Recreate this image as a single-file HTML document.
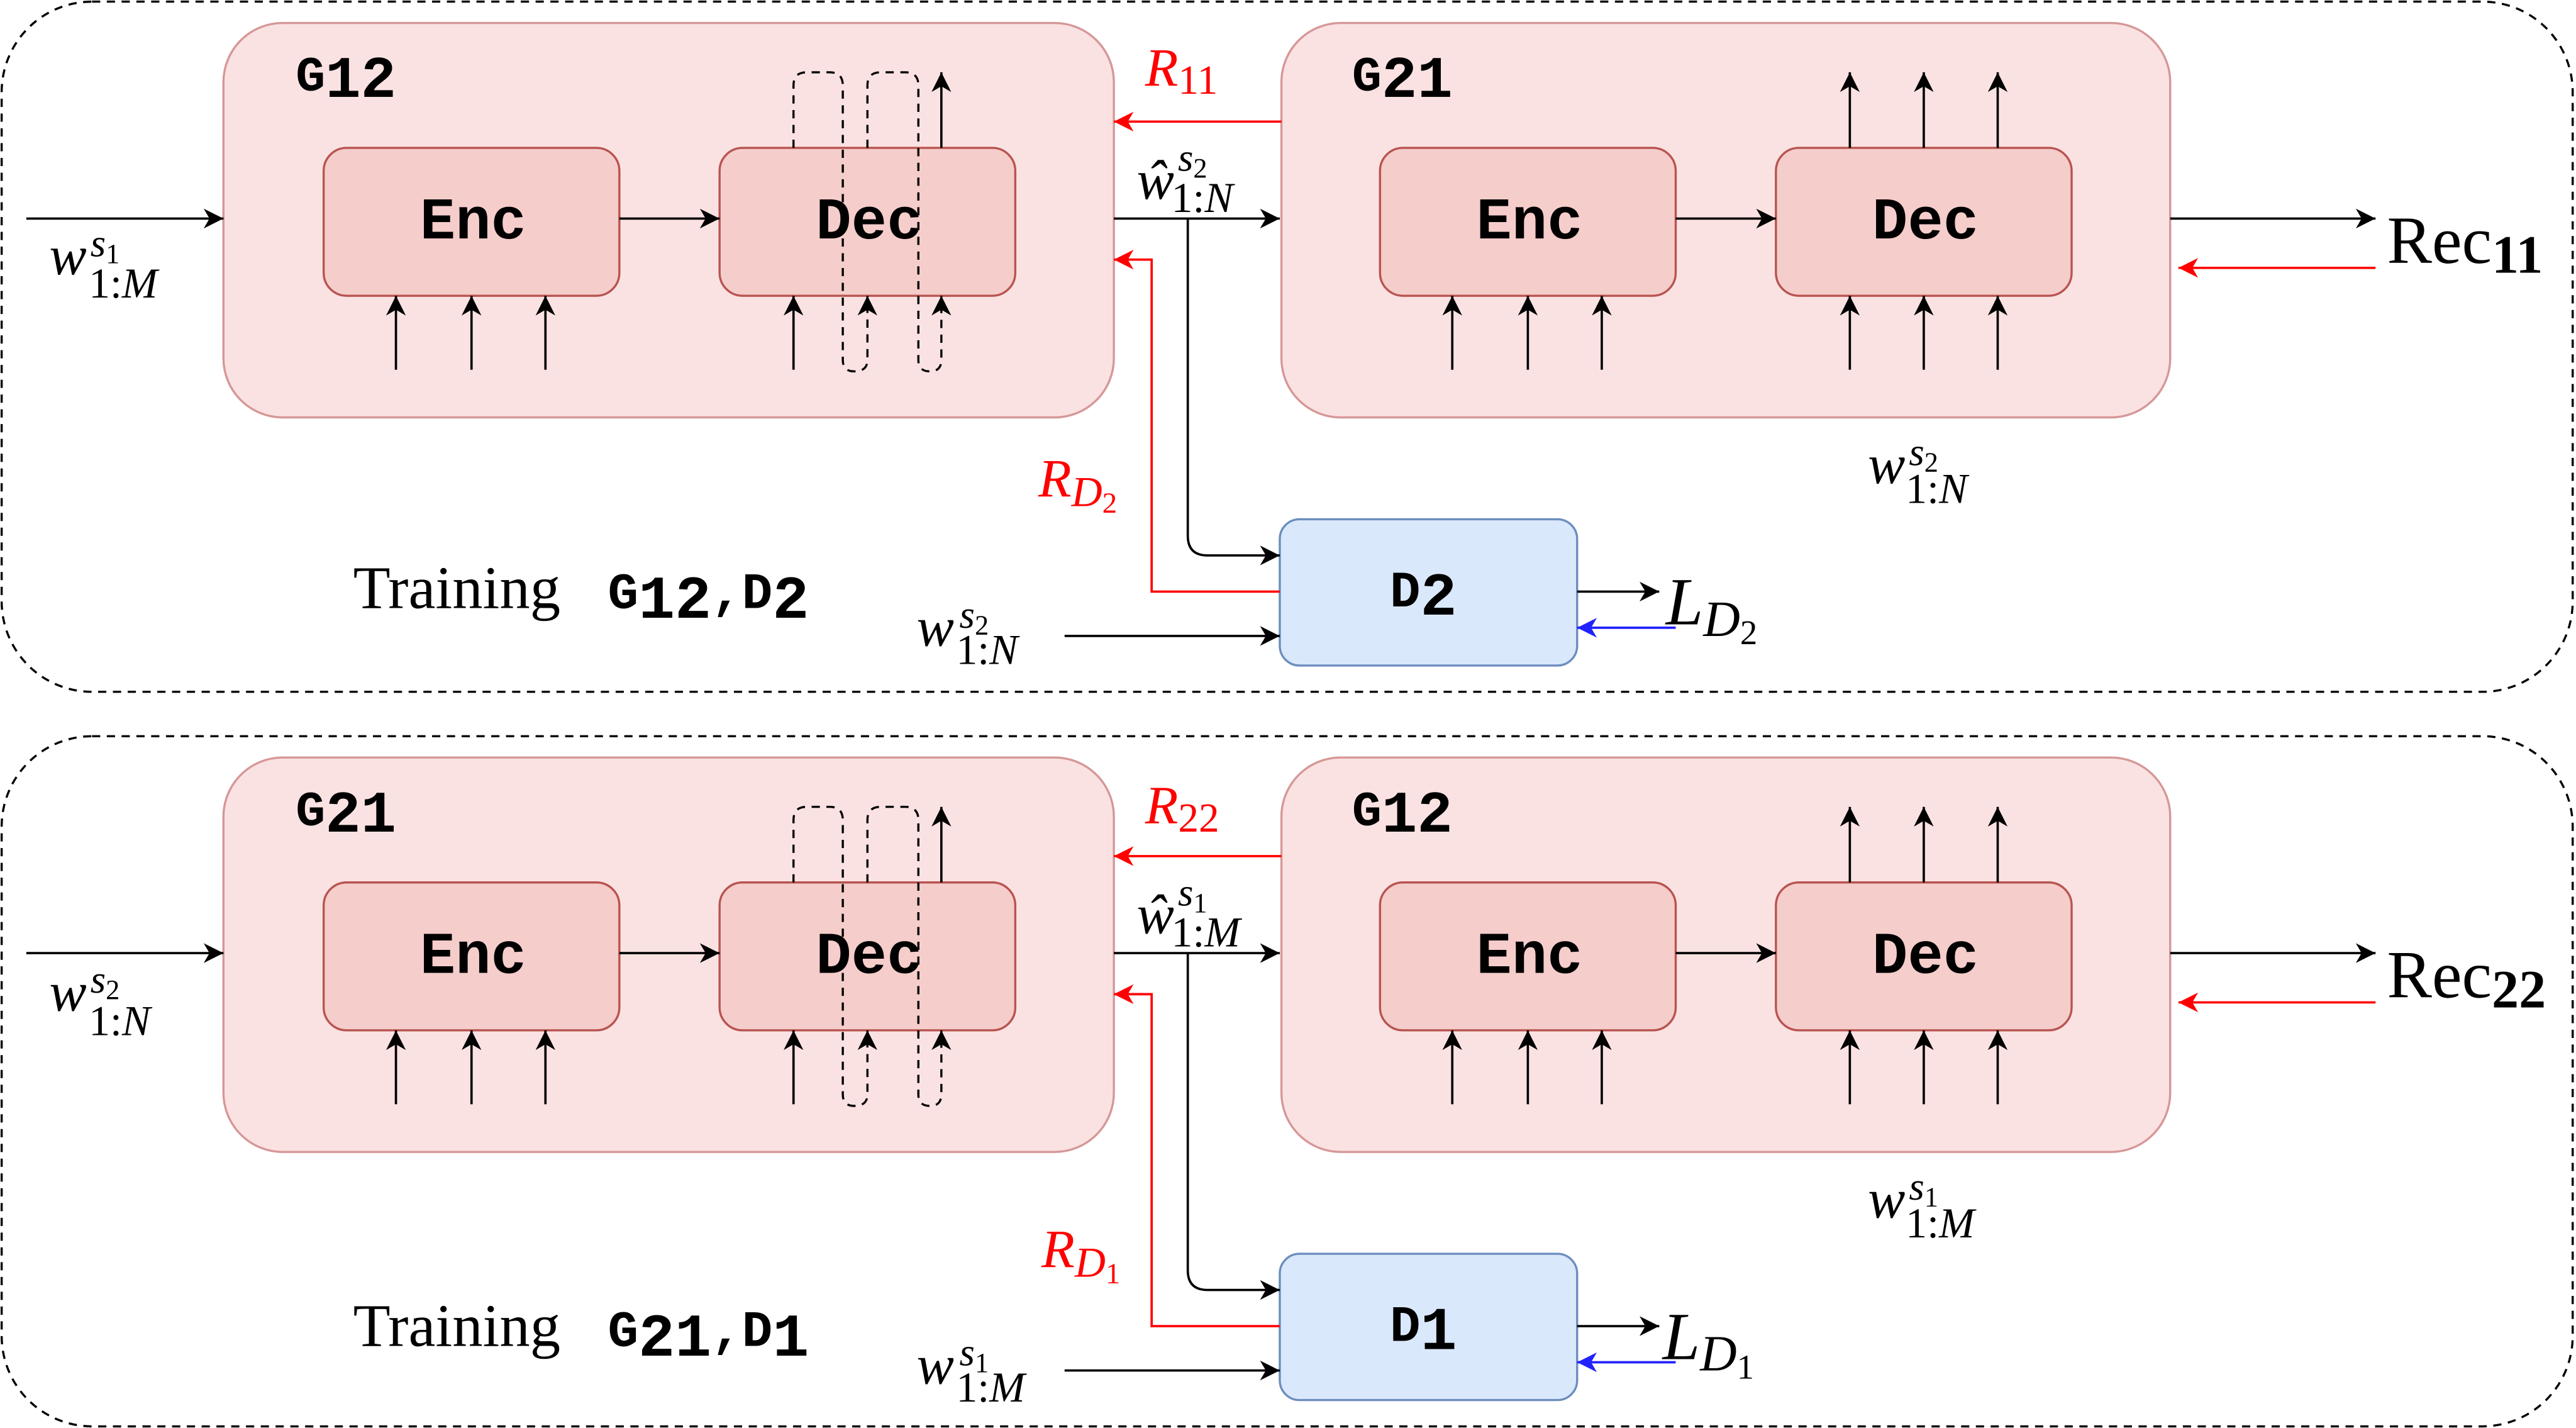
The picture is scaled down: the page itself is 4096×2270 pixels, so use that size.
<!DOCTYPE html>
<html><head><meta charset="utf-8"><style>
html,body{margin:0;padding:0;background:#fff;}
svg{display:block;}
.m{font-family:"Liberation Mono","Courier New",monospace;font-weight:bold;}
.s{font-family:"Liberation Serif",serif;}
.i{font-family:"Liberation Serif",serif;font-style:italic;}
</style></head><body>
<svg width="4096" height="2270" viewBox="0 0 1568 869" xmlns="http://www.w3.org/2000/svg">
<defs>
<marker id="ak" markerUnits="userSpaceOnUse" markerWidth="14" markerHeight="14" refX="12" refY="6" orient="auto"><path d="M0,0 L12,6 L0,12 L3.5,6 z" fill="#000"/></marker>
<marker id="ar" markerUnits="userSpaceOnUse" markerWidth="14" markerHeight="14" refX="12" refY="6" orient="auto"><path d="M0,0 L12,6 L0,12 L3.5,6 z" fill="#f00"/></marker>
<marker id="ab" markerUnits="userSpaceOnUse" markerWidth="14" markerHeight="14" refX="12" refY="6" orient="auto"><path d="M0,0 L12,6 L0,12 L3.5,6 z" fill="#22f"/></marker>
<g id="panel">
<rect x="1" y="1" width="1565" height="420" rx="55" fill="none" stroke="#000" stroke-width="1.3" stroke-dasharray="5,4"/>
<rect x="136" y="14" width="542" height="240" rx="36" fill="#fbe2e2" stroke="#d69797" stroke-width="1.3"/>
<rect x="780" y="14" width="541" height="240" rx="36" fill="#fbe2e2" stroke="#d69797" stroke-width="1.3"/>
<rect x="197" y="90" width="180" height="90" rx="14" fill="#f5cdcb" stroke="#b85450" stroke-width="1.3"/>
<rect x="438" y="90" width="180" height="90" rx="14" fill="#f5cdcb" stroke="#b85450" stroke-width="1.3"/>
<rect x="840" y="90" width="180" height="90" rx="14" fill="#f5cdcb" stroke="#b85450" stroke-width="1.3"/>
<rect x="1081" y="90" width="180" height="90" rx="14" fill="#f5cdcb" stroke="#b85450" stroke-width="1.3"/>
<rect x="779" y="316" width="181" height="89" rx="12" fill="#dae8fc" stroke="#6c8ebf" stroke-width="1.3"/>
<text x="288" y="145" class="m" font-size="36" text-anchor="middle">Enc</text>
<text x="529" y="145" class="m" font-size="36" text-anchor="middle">Dec</text>
<text x="931" y="145" class="m" font-size="36" text-anchor="middle">Enc</text>
<text x="1172" y="145" class="m" font-size="36" text-anchor="middle">Dec</text>
<g stroke="#000" stroke-width="1.4" fill="none">
<line x1="16" y1="133" x2="136" y2="133" marker-end="url(#ak)"/>
<line x1="377" y1="133" x2="438" y2="133" marker-end="url(#ak)"/>
<line x1="678" y1="133" x2="779" y2="133" marker-end="url(#ak)"/>
<line x1="1020" y1="133" x2="1081" y2="133" marker-end="url(#ak)"/>
<line x1="1321" y1="133" x2="1446" y2="133" marker-end="url(#ak)"/>
<path d="M723,133 L723,326 Q723,338 735,338 L779,338" marker-end="url(#ak)"/>
<line x1="648" y1="387" x2="779" y2="387" marker-end="url(#ak)"/>
<line x1="960" y1="360" x2="1010" y2="360" marker-end="url(#ak)"/>
<line x1="241" y1="225" x2="241" y2="180" marker-end="url(#ak)"/>
<line x1="287" y1="225" x2="287" y2="180" marker-end="url(#ak)"/>
<line x1="332" y1="225" x2="332" y2="180" marker-end="url(#ak)"/>
<line x1="483" y1="225" x2="483" y2="180" marker-end="url(#ak)"/>
<line x1="573" y1="90" x2="573" y2="44" marker-end="url(#ak)"/>
<line x1="884" y1="225" x2="884" y2="180" marker-end="url(#ak)"/>
<line x1="930" y1="225" x2="930" y2="180" marker-end="url(#ak)"/>
<line x1="975" y1="225" x2="975" y2="180" marker-end="url(#ak)"/>
<line x1="1126" y1="225" x2="1126" y2="180" marker-end="url(#ak)"/>
<line x1="1171" y1="225" x2="1171" y2="180" marker-end="url(#ak)"/>
<line x1="1216" y1="225" x2="1216" y2="180" marker-end="url(#ak)"/>
<line x1="1126" y1="90" x2="1126" y2="44" marker-end="url(#ak)"/>
<line x1="1171" y1="90" x2="1171" y2="44" marker-end="url(#ak)"/>
<line x1="1216" y1="90" x2="1216" y2="44" marker-end="url(#ak)"/>
</g>
<g stroke="#000" stroke-width="1.3" fill="none" stroke-dasharray="5,4">
<path d="M483,90 L483,52 Q483,44 491,44 L505,44 Q513,44 513,52 L513,219 Q513,226 520,226 Q528,226 528,219 L528,180" marker-end="url(#ak)"/>
<path d="M528,90 L528,52 Q528,44 536,44 L551,44 Q559,44 559,52 L559,219 Q559,226 566,226 Q573,226 573,219 L573,180" marker-end="url(#ak)"/>
</g>
<g stroke="#f00" stroke-width="1.4" fill="none">
<line x1="780" y1="74" x2="678" y2="74" marker-end="url(#ar)"/>
<polyline points="779,360 701,360 701,158 678,158" marker-end="url(#ar)"/>
<line x1="1446" y1="163" x2="1326" y2="163" marker-end="url(#ar)"/>
</g>
<line x1="1020" y1="382" x2="960" y2="382" stroke="#22f" stroke-width="1.4" marker-end="url(#ab)"/>
</g>
</defs>
<use href="#panel"/>
<use href="#panel" transform="translate(0,447)"/>

<!-- top panel labels -->
<text x="180" y="55" class="m" font-size="30">G<tspan font-size="36" dy="4">12</tspan></text>
<text x="823" y="55" class="m" font-size="30">G<tspan font-size="36" dy="4">21</tspan></text>
<text x="697" y="52" class="i" font-size="33" fill="#f00">R<tspan class="s" font-style="normal" font-size="25" dy="5">11</tspan></text>
<text x="692" y="121" class="i" font-size="34">ŵ</text><text x="717" y="104" class="i" font-size="24">s<tspan class="s" font-style="normal" font-size="17" dy="4">2</tspan></text><text x="713" y="129" class="s" font-size="26">1:<tspan class="i">N</tspan></text>
<text x="30" y="167" class="i" font-size="34">w</text><text x="55" y="156" class="i" font-size="24">s<tspan class="s" font-style="normal" font-size="17" dy="4">1</tspan></text><text x="54" y="181" class="s" font-size="26">1:<tspan class="i">M</tspan></text>
<text x="1453" y="160" class="s" font-size="41">Rec<tspan font-weight="bold" font-size="33" dy="6">11</tspan></text>
<text x="1137" y="294" class="i" font-size="34">w</text><text x="1162" y="283" class="i" font-size="24">s<tspan class="s" font-style="normal" font-size="17" dy="4">2</tspan></text><text x="1160" y="306" class="s" font-size="26">1:<tspan class="i">N</tspan></text>
<text x="632" y="302" class="i" font-size="33" fill="#f00">R<tspan font-size="26" dy="6">D</tspan><tspan class="s" font-style="normal" font-size="18" dy="4">2</tspan></text>
<text x="215" y="370" class="s" font-size="37">Training</text>
<text x="370" y="370" class="m" font-size="31">G<tspan font-size="37" dy="6">12</tspan><tspan dy="-6">,D</tspan><tspan font-size="37" dy="6">2</tspan></text>
<text x="558" y="393" class="i" font-size="34">w</text><text x="584" y="382" class="i" font-size="24">s<tspan class="s" font-style="normal" font-size="17" dy="4">2</tspan></text><text x="582" y="404" class="s" font-size="26">1:<tspan class="i">N</tspan></text>
<text x="846" y="369" class="m" font-size="31">D<tspan font-size="37" dy="5">2</tspan></text>
<text x="1014" y="380" class="i" font-size="41">L<tspan font-size="31" dy="7">D</tspan><tspan class="s" font-style="normal" font-size="21" dy="5">2</tspan></text>

<!-- bottom panel labels -->
<text x="180" y="502" class="m" font-size="30">G<tspan font-size="36" dy="4">21</tspan></text>
<text x="823" y="502" class="m" font-size="30">G<tspan font-size="36" dy="4">12</tspan></text>
<text x="697" y="501" class="i" font-size="33" fill="#f00">R<tspan class="s" font-style="normal" font-size="25" dy="5">22</tspan></text>
<text x="692" y="568" class="i" font-size="34">ŵ</text><text x="717" y="551" class="i" font-size="24">s<tspan class="s" font-style="normal" font-size="17" dy="4">1</tspan></text><text x="713" y="576" class="s" font-size="26">1:<tspan class="i">M</tspan></text>
<text x="30" y="615" class="i" font-size="34">w</text><text x="55" y="604" class="i" font-size="24">s<tspan class="s" font-style="normal" font-size="17" dy="4">2</tspan></text><text x="54" y="630" class="s" font-size="26">1:<tspan class="i">N</tspan></text>
<text x="1453" y="607" class="s" font-size="41">Rec<tspan font-weight="bold" font-size="33" dy="6">22</tspan></text>
<text x="1137" y="741" class="i" font-size="34">w</text><text x="1162" y="730" class="i" font-size="24">s<tspan class="s" font-style="normal" font-size="17" dy="4">1</tspan></text><text x="1160" y="753" class="s" font-size="26">1:<tspan class="i">M</tspan></text>
<text x="634" y="771" class="i" font-size="33" fill="#f00">R<tspan font-size="26" dy="6">D</tspan><tspan class="s" font-style="normal" font-size="18" dy="4">1</tspan></text>
<text x="215" y="819" class="s" font-size="37">Training</text>
<text x="370" y="819" class="m" font-size="31">G<tspan font-size="37" dy="6">21</tspan><tspan dy="-6">,D</tspan><tspan font-size="37" dy="6">1</tspan></text>
<text x="558" y="842" class="i" font-size="34">w</text><text x="584" y="831" class="i" font-size="24">s<tspan class="s" font-style="normal" font-size="17" dy="4">1</tspan></text><text x="582" y="853" class="s" font-size="26">1:<tspan class="i">M</tspan></text>
<text x="846" y="816" class="m" font-size="31">D<tspan font-size="37" dy="5">1</tspan></text>
<text x="1012" y="827" class="i" font-size="41">L<tspan font-size="31" dy="7">D</tspan><tspan class="s" font-style="normal" font-size="21" dy="5">1</tspan></text>
</svg>
</body></html>
